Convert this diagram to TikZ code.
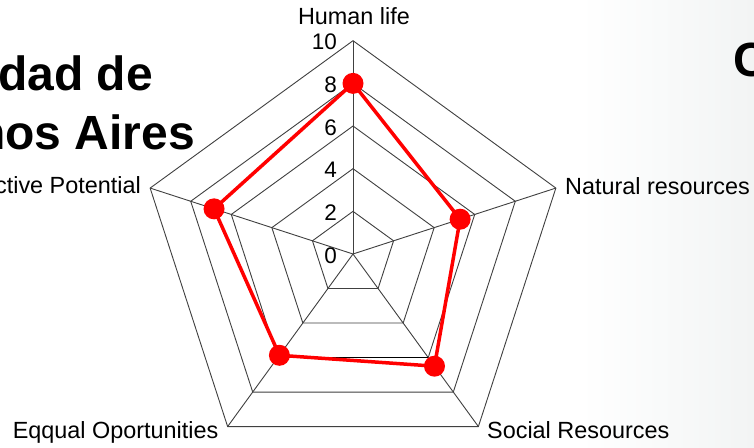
\documentclass[tikz,border=0pt]{standalone}
\usepackage{fontspec}
\setmainfont{Liberation Sans}
\definecolor{bgright}{RGB}{242,244,244}
\begin{document}
\begin{tikzpicture}[x=1pt,y=1pt,
  grid/.style={draw=black!75,line width=0.9pt},
  axislabel/.style={font=\fontsize{23.4}{27}\selectfont,inner sep=0pt},
  ticklabel/.style={font=\fontsize{22.5}{26}\selectfont,inner sep=0pt,anchor=east},
  titletext/.style={font=\fontsize{48}{56}\selectfont\bfseries,inner sep=0pt},
  series/.style={draw=red,line width=3.5pt,line join=round},
  datadot/.style={circle,fill=red,minimum size=21pt,inner sep=0pt}]
\useasboundingbox (0,0) rectangle (754,447);
\fill[white] (0,0) rectangle (754,447);
\shade[left color=white,right color=bgright] (580,0) rectangle (754,447);
% titles (cut off in the reference)
\node[titletext,anchor=base east] (title1) at (153,356) {dad de};
\node[titletext,anchor=base east] (title2) at (195,297) {nos Aires};
\node[titletext,anchor=base west] (title3) at (733,370) {C};
\begin{scope}[shift={(353,193)}]
  \coordinate (c) at (0,0);
  % rings
  \foreach \v in {2,4,6,8,10}{
    \draw[grid] (90:{21.33*\v}) -- (18:{21.33*\v}) -- (-54:{21.33*\v}) -- (-126:{21.33*\v}) -- (162:{21.33*\v}) -- cycle;
  }
  % spokes
  \coordinate (ax1) at (90:213.3);
  \coordinate (ax2) at (18:213.3);
  \coordinate (ax3) at (-54:213.3);
  \coordinate (ax4) at (-126:213.3);
  \coordinate (ax5) at (162:213.3);
  \foreach \k in {1,...,5}{ \draw[grid] (c) -- (ax\k); }
  % darker edge of ring 6
  \coordinate (e6a) at (-54:127.98);
  \coordinate (e6b) at (-126:127.98);
  \draw[black,line width=1.1pt] (e6a) -- (e6b);
  % tick labels
  \foreach \v in {0,2,4,6,8,10}{
    \node[ticklabel] (t\v) at (-16,{21.33*\v-1.5}) {\v};
  }
  % axis labels
  \node[axislabel,anchor=base] (lab1) at (1,229) {Human life};
  \node[axislabel,anchor=base west] (lab2) at (212,59) {Natural resources};
  \node[axislabel,anchor=base west] (lab3) at (134,-184) {Social Resources};
  \node[axislabel,anchor=base east] (lab4) at (-134.5,-184.3) {Eqqual Oportunities};
  \node[axislabel,anchor=base east] (lab5) at (-212,60) {ctive Potential};
  % data
  \coordinate (p1) at (90:{8*21.33});
  \coordinate (p2) at (18:{5.28*21.33});
  \coordinate (p3) at (-54:{6.5*21.33});
  \coordinate (p4) at (-126:{5.87*21.33});
  \coordinate (p5) at (162:{6.85*21.33});
  \draw[series] (p1) -- (p2) -- (p3) -- (p4) -- (p5) -- cycle;
  \foreach \k in {1,...,5}{ \node[datadot] (d\k) at (p\k) {}; }
\end{scope}
\end{tikzpicture}
\end{document}
